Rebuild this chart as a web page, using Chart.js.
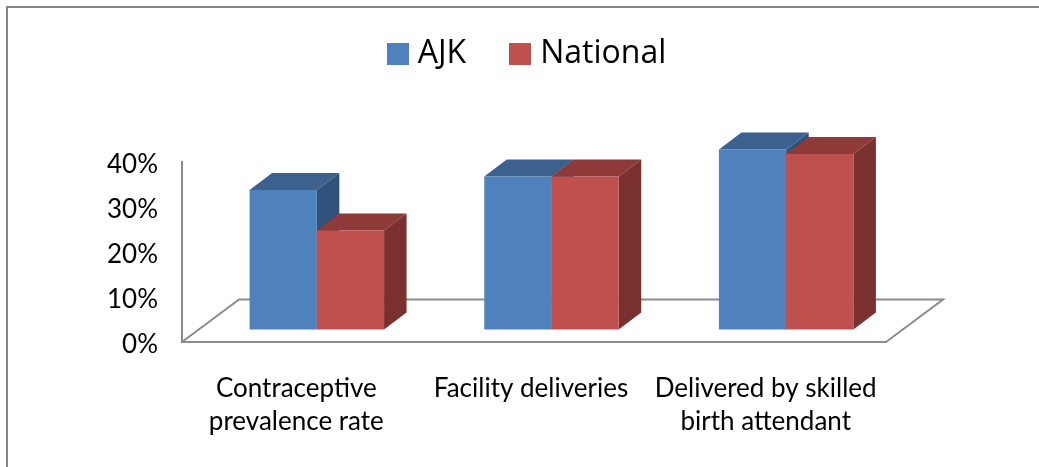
<!DOCTYPE html>
<html>
<head>
<meta charset="utf-8">
<style>html,body{margin:0;padding:0;background:#fff}canvas{display:block}</style>
<script src="https://cdn.jsdelivr.net/npm/chart.js@4"></script>
</head>
<body>
<canvas id="c" width="1039" height="467"></canvas>
<script>
const categories = [["Contraceptive","prevalence rate"],["Facility deliveries"],["Delivered by skilled","birth attendant"]];
const ajkValues = [31, 34, 40];
const nationalValues = [22, 34, 39];
const tickValues = [0, 10, 20, 30, 40];
const FONT = "Lato, sans-serif";
const LEGEND_FONT = "'Open Sans', sans-serif";
const GRAY = "#8c8c8c";
const DX = 17.5, DY = -12.5, DEPTH_X = 22.5, DEPTH_Y = 17;
const shades = [{top:"#3c618e",side:"#30527a"},{top:"#8e3a38",side:"#7a302e"}];

function swatch(color){
  const s = document.createElement("canvas");
  s.width = 22; s.height = 22;
  const g = s.getContext("2d");
  g.fillStyle = color; g.fillRect(0,0,22,22);
  return s;
}

function poly(ctx, pts, fill){
  ctx.fillStyle = fill;
  ctx.beginPath();
  pts.forEach((p,i)=> i ? ctx.lineTo(p[0],p[1]) : ctx.moveTo(p[0],p[1]));
  ctx.closePath();
  ctx.fill();
}

const threeD = {
  id: "threeD",
  beforeLayout(chart){
    const l = chart.legend;
    if (l && !l._wrapped){
      const f = l.fit;
      l.fit = function(){ f.call(this); this.height = 162; };
      l._wrapped = true;
    }
  },
  afterLayout(chart){
    const l = chart.legend;
    if (l){ l.top = -12; l.left = 21; l.right = 1039; }
  },
  beforeDraw(chart){
    const c = chart.ctx;
    c.save();
    c.strokeStyle = "#868686"; c.lineWidth = 2;
    c.beginPath(); c.moveTo(7,467); c.lineTo(7,7); c.lineTo(1039,7); c.stroke();
    c.restore();
  },
  beforeDatasetsDraw(chart){
    const c = chart.ctx, a = chart.chartArea;
    const fx = 57, fy = 42.5;
    c.save();
    c.strokeStyle = GRAY; c.lineWidth = 2;
    c.beginPath();
    c.moveTo(a.left, a.bottom);
    c.lineTo(a.left+fx, a.bottom-fy);
    c.lineTo(a.right+fx, a.bottom-fy);
    c.lineTo(a.right, a.bottom);
    c.stroke();
    c.restore();
  },
  // The library paints the last dataset first; the 3D overlap needs the first one first.
  beforeDatasetDraw(){ return false; },
  afterDatasetsDraw(chart){
    const c = chart.ctx;
    [0,1].forEach(i=>{
      const meta = chart.getDatasetMeta(i), s = shades[i];
      c.save();
      c.translate(DX, DY);
      meta.data.forEach(b=>{
        const l = b.x-b.width/2, r = b.x+b.width/2;
        poly(c, [[l,b.y],[r,b.y],[r+DEPTH_X,b.y-DEPTH_Y],[l+DEPTH_X,b.y-DEPTH_Y]], s.top);
        poly(c, [[r,b.y],[r+DEPTH_X,b.y-DEPTH_Y],[r+DEPTH_X,b.base-DEPTH_Y],[r,b.base]], s.side);
      });
      meta.controller.draw();
      c.restore();
    });
  }
};

new Chart(document.getElementById("c"), {
  type: "bar",
  plugins: [threeD],
  data: {
    labels: categories,
    datasets: [
      {label:"AJK", data:ajkValues, backgroundColor:"#4f81bd"},
      {label:"National", data:nationalValues, backgroundColor:"#c0504d"}
    ]
  },
  options: {
    responsive:false,
    animation:false,
    layout:{padding:{left:0,right:153,top:0,bottom:0}},
    plugins:{
      tooltip:{enabled:false},
      legend:{
        position:"top",
        labels:{
          color:"#000",
          font:{family:LEGEND_FONT,size:32},
          padding:50,
          usePointStyle:true,
          pointStyleWidth:8,
          boxHeight:16,
          generateLabels(chart){
            return Chart.defaults.plugins.legend.labels.generateLabels(chart).map(it=>({
              ...it,
              pointStyle: swatch(it.fillStyle)
            }));
          }
        }
      }
    },
    scales:{
      x:{
        grid:{display:false},
        border:{display:true,color:GRAY,width:2},
        afterFit(s){ s.height = 125; },
        ticks:{
          color:"#000",
          font:{family:FONT,size:26,lineHeight:1.27},
          maxRotation:0,minRotation:0,autoSkip:false,
          padding:22,labelOffset:-3
        }
      },
      y:{
        min:0,max:40,
        afterFit(s){ s.width = 182; },
        afterBuildTicks(s){ s.ticks = tickValues.map(v=>({value:v})); },
        grid:{display:false},
        border:{display:true,color:GRAY,width:2},
        ticks:{
          color:"#000",
          font:{family:FONT,size:26},
          padding:16,
          labelOffset:3,
          callback:v=>v+"%"
        }
      }
    },
    datasets:{bar:{categoryPercentage:0.573,barPercentage:1}}
  }
});
</script>
</body>
</html>
